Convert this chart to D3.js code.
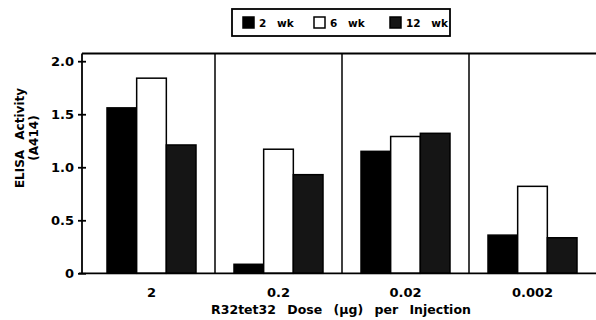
<!DOCTYPE html>
<html>
<head>
<meta charset="utf-8">
<script src="https://cdn.jsdelivr.net/npm/d3@7"></script>
<style>
  body { margin: 0; background: #fff; }
  svg { display: block; }
  text { font-family: "DejaVu Sans", sans-serif; font-weight: bold; fill: #000; }
</style>
</head>
<body>
<svg id="chart" width="596" height="320"></svg>
<script>
// doses (x categories) and weeks (series)
var doses = ["2", "0.2", "0.02", "0.002"];
var weeks = ["2 wk", "6 wk", "12 wk"];
var wk2 = [1.56, 0.085, 1.15, 0.36];
var wk6 = [1.84, 1.17, 1.29, 0.82];
var wk12 = [1.21, 0.93, 1.32, 0.335];
var yTicks = [0, 0.5, 1.0, 1.5, 2.0];
var yTickLabels = ["0", "0.5", "1.0", "1.5", "2.0"];
var colors = { "2 wk": "#000", "6 wk": "#fff", "12 wk": "#151515" };

var svg = d3.select("#chart");
var axisX = 82, plotRight = 596, plotTop = 53.5, plotBottom = 273.3;

var x = d3.scaleBand().domain(doses).range([88, plotRight]).paddingInner(0).paddingOuter(0);
var xs = d3.scaleBand().domain(weeks).range([19, 108]);
var y = d3.scaleLinear().domain([0, 2.0]).range([plotBottom, 61.2]);

var rows = doses.map(function(d, i) {
  return { dose: d, vals: [wk2[i], wk6[i], wk12[i]] };
});

// bars
var g = svg.append("g");
rows.forEach(function(r) {
  weeks.forEach(function(w, j) {
    g.append("rect")
      .attr("x", x(r.dose) + xs(w))
      .attr("y", y(r.vals[j]))
      .attr("width", xs.bandwidth())
      .attr("height", plotBottom - y(r.vals[j]))
      .attr("fill", colors[w])
      .attr("stroke", "#000")
      .attr("stroke-width", 1.5);
  });
});

// frame: top line, bottom line, panel dividers
svg.append("line").attr("x1", axisX).attr("x2", plotRight).attr("y1", plotTop).attr("y2", plotTop)
  .attr("stroke", "#000").attr("stroke-width", 1.8);
svg.append("line").attr("x1", axisX - 3).attr("x2", plotRight).attr("y1", plotBottom).attr("y2", plotBottom)
  .attr("stroke", "#000").attr("stroke-width", 1.8);
doses.slice(1).forEach(function(d) {
  svg.append("line").attr("x1", x(d)).attr("x2", x(d)).attr("y1", plotTop).attr("y2", plotBottom)
    .attr("stroke", "#000").attr("stroke-width", 1.5);
});

// y axis
var yAxis = d3.axisLeft(y).tickValues(yTicks)
  .tickFormat(function(d, i) { return yTickLabels[i]; })
  .tickSize(0).tickPadding(8);
var ya = svg.append("g").attr("transform", "translate(" + axisX + ",0)").call(yAxis);
ya.select(".domain").remove();
ya.selectAll("text").attr("font-size", 13).attr("font-family", null);
ya.selectAll(".tick").append("line").attr("x1", -4).attr("x2", 4)
  .attr("stroke", "#000").attr("stroke-width", 1.8);
svg.append("line").attr("x1", axisX).attr("x2", axisX).attr("y1", plotTop).attr("y2", plotBottom)
  .attr("stroke", "#000").attr("stroke-width", 1.8);

// x axis labels
var xAxis = d3.axisBottom(x).tickSize(0).tickPadding(14);
var xa = svg.append("g").attr("transform", "translate(0," + plotBottom + ")").call(xAxis);
xa.select(".domain").remove();
xa.selectAll("text").attr("font-size", 13).attr("font-family", null);

// axis titles
svg.append("text").attr("x", 341).attr("y", 314).attr("text-anchor", "middle")
  .attr("font-size", 12.5).style("word-spacing", "7px")
  .text("R32tet32 Dose (\u00b5g) per Injection");
var yt = svg.append("g").attr("transform", "translate(0,138) rotate(-90)");
yt.append("text").attr("x", 0).attr("y", 24).attr("text-anchor", "middle")
  .attr("font-size", 12).style("word-spacing", "6px").text("ELISA Activity");
yt.append("text").attr("x", 0).attr("y", 38).attr("text-anchor", "middle")
  .attr("font-size", 12).text("(A414)");

// legend
var leg = svg.append("g");
leg.append("rect").attr("x", 232).attr("y", 9).attr("width", 218).attr("height", 27)
  .attr("fill", "#fff").attr("stroke", "#000").attr("stroke-width", 1.8);
var legX = [243, 314, 390];
weeks.forEach(function(w, i) {
  leg.append("rect").attr("x", legX[i]).attr("y", 17).attr("width", 11).attr("height", 11)
    .attr("fill", colors[w]).attr("stroke", "#000").attr("stroke-width", 1.5);
  leg.append("text").attr("x", legX[i] + 16).attr("y", 27).attr("font-size", 10.5)
    .style("word-spacing", "7px").text(w);
});
</script>
</body>
</html>
